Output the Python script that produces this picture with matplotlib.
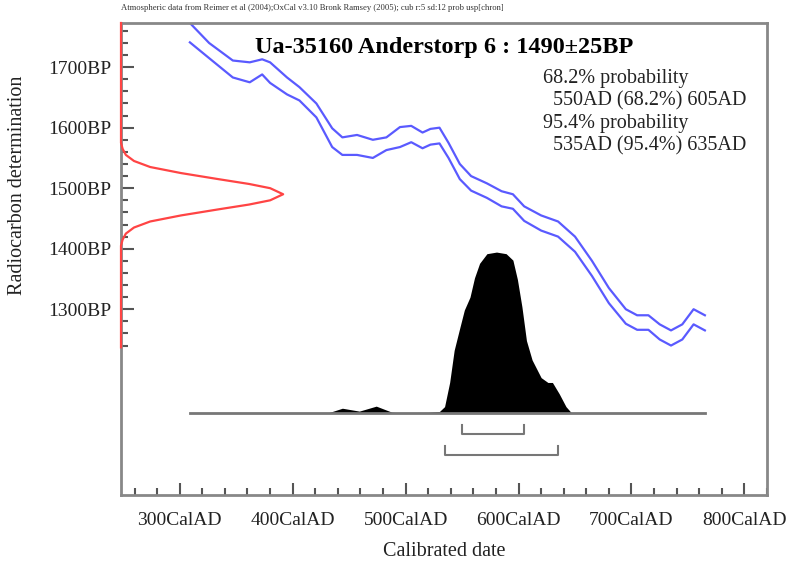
import numpy as np
import matplotlib.pyplot as plt
from matplotlib.ticker import MultipleLocator, FixedLocator
import matplotlib.transforms as mtransforms

plt.rcParams['font.family'] = ['Liberation Serif', 'DejaVu Serif']

# calibration curve, upper and lower 1-sigma edges (cal AD, BP)
curve_year = [309, 326, 347, 362, 373, 380, 395, 406, 421, 435, 444, 457, 471, 483, 495,
              505, 515, 522, 530, 538, 548, 558, 572, 585, 595, 605, 620, 635, 650, 665,
              680, 695, 705, 715, 725, 735, 745, 755, 765]
curve_hi = [1773, 1740, 1711, 1708, 1713, 1708, 1683, 1667, 1640, 1599, 1584, 1588, 1580, 1584, 1601,
            1603, 1592, 1598, 1600, 1575, 1540, 1520, 1508, 1495, 1490, 1470, 1455, 1445, 1420, 1380,
            1335, 1300, 1290, 1290, 1275, 1265, 1275, 1300, 1290]
curve_lo = [1741, 1715, 1683, 1675, 1688, 1674, 1655, 1645, 1617, 1568, 1555, 1555, 1550, 1563, 1568,
            1576, 1566, 1572, 1574, 1550, 1515, 1496, 1484, 1470, 1466, 1446, 1430, 1420, 1395, 1355,
            1310, 1276, 1266, 1266, 1250, 1240, 1250, 1275, 1265]

# radiocarbon measurement 1490+-25 BP, relative density
c14_bp = [1773, 1575, 1565, 1555, 1545, 1535, 1525, 1515, 1507, 1500, 1490,
          1480, 1473, 1465, 1455, 1445, 1435, 1425, 1415, 1405, 1237]
c14_p = [0, 0, 0.01, 0.03, 0.08, 0.18, 0.37, 0.60, 0.79, 0.92, 1.0,
         0.92, 0.79, 0.60, 0.37, 0.18, 0.08, 0.03, 0.01, 0, 0]

# calibrated probability distribution (cal AD, relative)
cal_year = [309, 430, 433, 444, 459, 474, 488, 492, 520, 530, 534.5, 539, 543, 548, 552, 557,
            561, 565.5, 572, 580.5, 589, 595, 599, 603, 607, 612, 620, 626, 630, 636, 642, 647, 765]
cal_p = [0, 0, 0.005, 0.03, 0.012, 0.043, 0.005, 0.003, 0.004, 0.01, 0.04, 0.19, 0.39, 0.53, 0.64, 0.72,
         0.84, 0.93, 0.99, 1.0, 0.99, 0.95, 0.83, 0.66, 0.45, 0.33, 0.22, 0.19, 0.19, 0.12, 0.04, 0, 0]

range68 = (550, 605)
range95 = (535, 635)

title = 'Ua-35160 Anderstorp 6 : 1490\u00b125BP'
prob_lines = ['68.2% probability', '  550AD (68.2%) 605AD',
              '95.4% probability', '  535AD (95.4%) 635AD']
header = ('Atmospheric data from Reimer et al (2004);OxCal v3.10 Bronk Ramsey (2005); '
          'cub r:5 sd:12 prob usp[chron]')

fig = plt.figure(figsize=(7.9, 5.68), dpi=100)
ax = fig.add_axes([121 / 790, 1 - 495 / 568, 646 / 790, 472 / 568])
ax.set_xlim(248, 820)
ax.set_ylim(993, 1773)

frame = '#888888'
for s in ax.spines.values():
    s.set_color(frame)
    s.set_linewidth(2)

ax.set_xticks(np.arange(300, 801, 100))
ax.xaxis.set_minor_locator(MultipleLocator(20))
ax.set_xticklabels(['%dCalAD' % v for v in range(300, 801, 100)])
ax.yaxis.set_major_locator(FixedLocator(range(1300, 1701, 100)))
ax.yaxis.set_minor_locator(FixedLocator(range(1240, 1771, 20)))
ax.set_yticklabels(['%dBP' % v for v in range(1300, 1701, 100)])
ax.tick_params(which='both', direction='in', color='#555555', width=1.5, labelsize=14,
               labelcolor='#222222', top=False, right=False)
ax.tick_params(axis='x', pad=12)
ax.tick_params(axis='y', pad=7)
ax.tick_params(which='major', length=9)
ax.tick_params(which='minor', length=5)

# calibration curve
ax.plot(curve_year, curve_hi, color='#5a5aff', lw=1.6)
ax.plot(curve_year, curve_lo, color='#5a5aff', lw=1.6)

# measurement on the y axis
tr = mtransforms.blended_transform_factory(ax.transAxes, ax.transData)
ax.plot(np.array(c14_p) * 0.251, c14_bp, color='#ff4444', lw=1.6, transform=tr,
        clip_on=False, zorder=4)

# calibrated distribution
ax2 = ax.twinx()
ax2.set_ylim(-0.509, 2.423)
ax2.axis('off')
ax2.fill_between(cal_year, 0, cal_p, color='black', lw=0)
ax2.plot([cal_year[0], cal_year[-1]], [0, 0], color='#777777', lw=2)

# ranges
for (a, b), y in [(range68, -0.13), (range95, -0.26)]:
    ax2.plot([a, a, b, b], [y + 0.056, y, y, y + 0.056], color='#777777', lw=1.5)

ax.text(0.5, 1 - 25 / 472, title, transform=ax.transAxes, ha='center', va='center',
        fontsize=17.5, fontweight='bold')
for i, line in enumerate(prob_lines):
    fig.text(543 / 790, 1 - (78 + 22.7 * i) / 568, line, ha='left', va='center', fontsize=14.5,
             color='#222222')
fig.text(121 / 790, 1 - 8 / 568, header, ha='left', va='center', fontsize=6.2, color='#333333')
fig.text(18 / 790, 1 - 185 / 568, 'Radiocarbon determination', rotation=90, ha='center',
         va='center', fontsize=14.5, color='#222222')
fig.text(444 / 790, 1 - 551 / 568, 'Calibrated date', ha='center', va='center', fontsize=14.5,
         color='#222222')

fig.savefig('out.png', dpi=100)
